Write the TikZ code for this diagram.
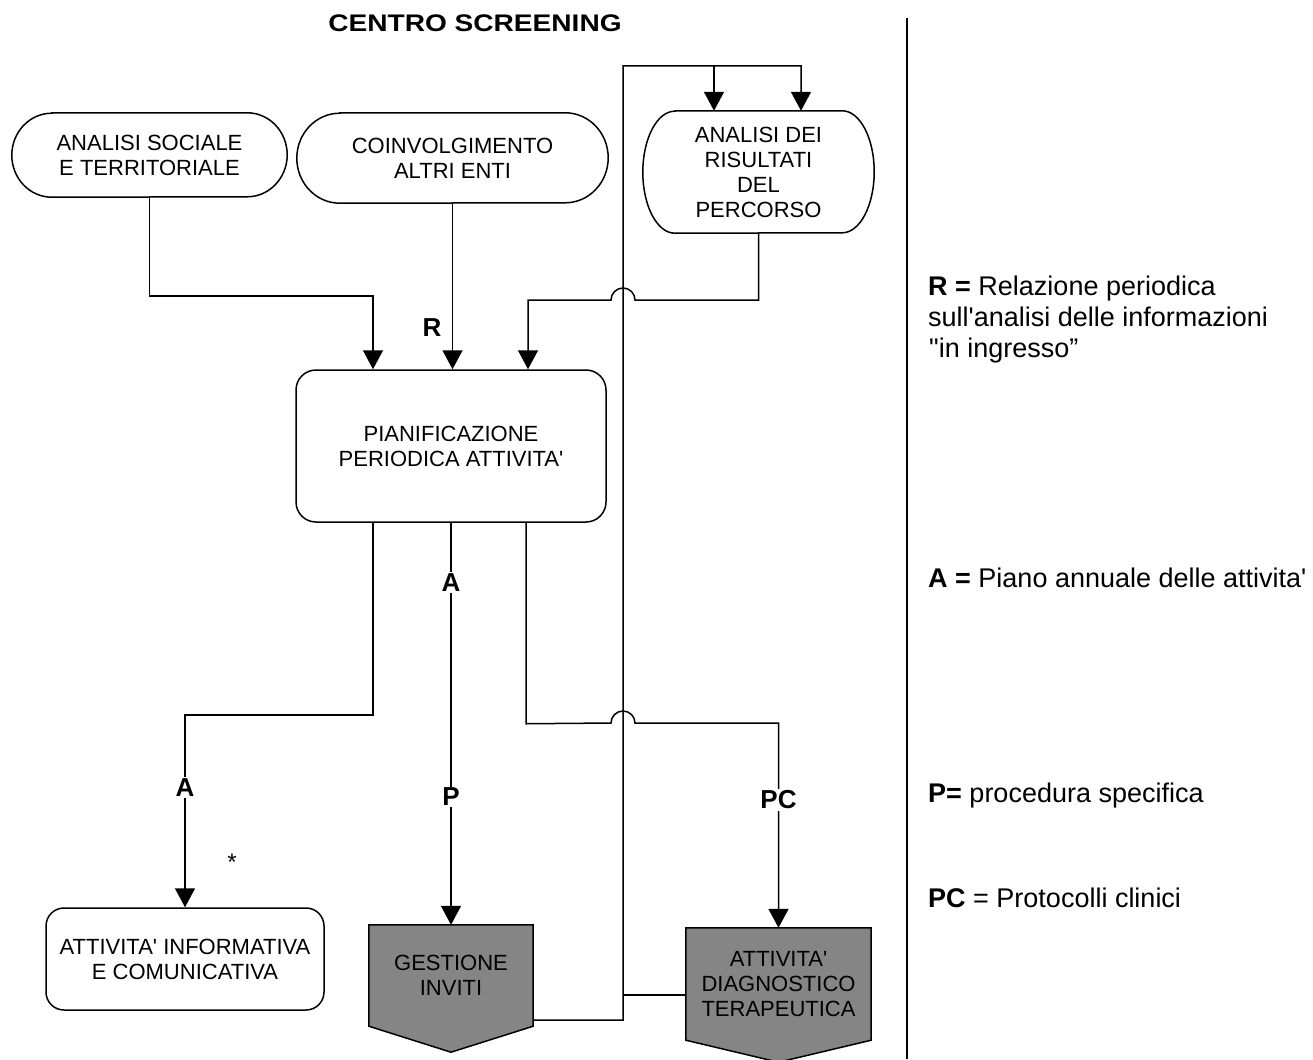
\documentclass[tikz,border=0pt]{standalone}
\usepackage{fontspec}
\setmainfont{Liberation Sans}[Ligatures=TeXOff]
\usepackage{graphicx}
\usetikzlibrary{arrows.meta,calc}
\pgfdeclarelayer{bg}
\pgfsetlayers{bg,main}
\definecolor{scan}{gray}{0.52}

% terminal box with elliptic ends: name, cx, cy, width, height, end radius, text
\newcommand\terminalbox[7]{%
  \node[boxtext, minimum width=#4pt, minimum height=#5pt] (#1) at (#2,#3) {#7};
  \draw[outline] ($(#1.north west)+(#6,0)$) -- ($(#1.north east)+(-#6,0)$)
    arc[start angle=90, end angle=-90, x radius=#6pt, y radius=#5pt/2]
    -- ($(#1.south west)+(#6,0)$)
    arc[start angle=270, end angle=90, x radius=#6pt, y radius=#5pt/2] -- cycle;
}
% off-page connector (shaded pentagon): name, cx, cy, width, side height, tip depth, text
\newcommand\offpage[7]{%
  \node[boxtext, minimum width=#4pt, minimum height=#5pt] (#1) at (#2,#3) {#7};
  \begin{pgfonlayer}{bg}
    \draw[outline, fill=scan] (#1.north west) -- (#1.north east) -- (#1.south east)
      -- ($(#1.south)+(0,#6)$) -- (#1.south west) -- cycle;
  \end{pgfonlayer}
}
\newcommand\loopx{623}

\begin{document}
\begin{tikzpicture}[x=1pt, y=-1pt,
  boxtext/.style={font=\fontsize{22}{25}\selectfont, align=center, inner sep=0pt},
  outline/.style={draw=black, line width=1.5pt},
  wire/.style={draw=black, line width=1.5pt},
  flow/.style={wire, -{Triangle[length=19pt, width=20pt]}},
  tag/.style={font=\fontsize{26}{26}\selectfont\bfseries, fill=white, inner sep=1.5pt},
  legtext/.style={font=\fontsize{27}{31}\selectfont, anchor=base west, inner sep=0pt},
]
\useasboundingbox (0,0) rectangle (1313,1059);

\node[font=\fontsize{24}{24}\selectfont\bfseries] (title) at (475,23)
  {\scalebox{1.17}[1]{CENTRO SCREENING}};

% separator between chart and key
\draw[line width=1.2pt] (907,18) -- (907,1059);

% input boxes
\terminalbox{soc}{149.5}{155}{275}{84}{40}{ANALISI SOCIALE\\E TERRITORIALE}
\terminalbox{coin}{452.5}{158}{311}{90}{43}{COINVOLGIMENTO\\ALTRI ENTI}
\terminalbox{ris}{758.5}{172}{231}{122}{32}{ANALISI DEI\\RISULTATI\\DEL\\PERCORSO}

% planning
\node[boxtext, outline, rounded corners=20pt, minimum width=310pt, minimum height=152pt]
  (pian) at (451,446) {PIANIFICAZIONE\\PERIODICA ATTIVITA'};

% outputs
\node[boxtext, outline, rounded corners=18pt, minimum width=278pt, minimum height=102pt]
  (info) at (185,959) {ATTIVITA' INFORMATIVA\\E COMUNICATIVA};
\offpage{gest}{451}{975.5}{164}{101}{26}{GESTIONE\\INVITI}
\offpage{diag}{778.5}{984}{185}{112}{22}{ATTIVITA'\\DIAGNOSTICO\\TERAPEUTICA}

% connection points
\coordinate (pinA) at ($(pian.north)+(-78,0)$);
\coordinate (pinC) at ($(pian.north)+(77,0)$);
\coordinate (poutA) at ($(pian.south)+(-78,0)$);
\coordinate (poutC) at ($(pian.south)+(75,0)$);
\coordinate (top) at (\loopx,66);
\coordinate (rinA) at ($(ris.north)+(-44.5,0)$);
\coordinate (rinB) at ($(ris.north)+(42.5,0)$);
\coordinate (dj) at ($(diag.west)+(0,11)$);

% flows into planning
\draw[flow] (soc.south) -- ++(0,99) -| (pinA);
\draw[flow] (coin.south) -- (coin.south |- pian.north);
\draw[flow] (ris.south) -- ++(0,67) -- ({\loopx+12},300)
  arc[start angle=0, end angle=180, radius=12pt] -| (pinC);
\node[font=\fontsize{26}{26}\selectfont\bfseries] (rtag) at (432,328) {R};

% flows out of planning
\draw[flow] (poutA) -- ++(0,192) -| (info.north);
\node[tag] (atag2) at ($(info.north)+(0,-120)$) {A};
\draw[flow] (pian.south) -- (gest.north)
  node[tag, pos=0.149] (atag) {A} node[tag, pos=0.682] (ptag) {P};
\draw[flow] (poutC) -- ++(0,201) -- ({\loopx-12},723)
  arc[start angle=180, end angle=0, radius=12pt] -| (diag.north);
\node[tag] (pctag) at ($(diag.north)+(0,-128)$) {PC};

% feedback loop to the results analysis
\draw[flow] ($(gest.south east)+(0,-6)$) -- (\loopx,1020) -- (top) -| (rinB);
\draw[flow] (rinA |- top) -- (rinA);
\draw[wire] (dj -| top) -- (dj);

\node[font=\fontsize{24}{24}\selectfont, anchor=base] (star) at (232,870) {*};

% key
\node[legtext] (legR1) at (928,295) {\textbf{R =} Relazione periodica};
\node[legtext] (legR2) at (928,326) {sull'analisi delle informazioni};
\node[legtext] (legR3) at (929,357) {"in ingresso”};
\node[legtext] (legA) at (928,587) {\textbf{A =} Piano annuale delle attivita'};
\node[legtext] (legP) at (928,802) {\textbf{P=} procedura specifica};
\node[legtext] (legPC) at (928,907) {\textbf{PC} = Protocolli clinici};
\end{tikzpicture}
\end{document}
